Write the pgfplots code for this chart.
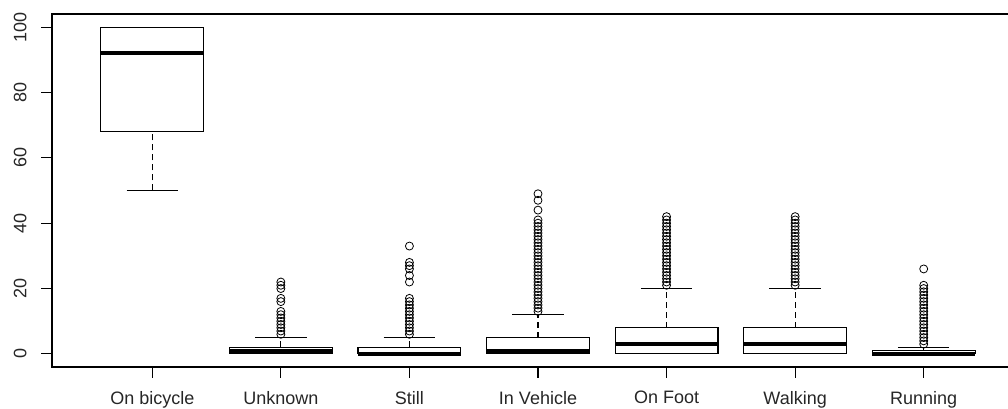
\documentclass[border=0pt]{standalone}
\usepackage{fontspec}
\setmainfont{Liberation Sans}
\usepackage{pgfplots}
\pgfplotsset{compat=1.18}
\usepgfplotslibrary{statistics}
\pgfplotsset{
  rbox/.style={
    black, line width=0.8pt, solid, fill=none, mark=none,
    boxplot/draw direction=y,
    boxplot/box extend=0.8,
    boxplot/every median/.style={line width=3pt},
    boxplot/draw/lower whisker/.code={
      \draw[line width=0.8pt, dash pattern=on 4.5pt off 3pt]
        (boxplot box cs:\pgfplotsboxplotvalue{lower whisker},0.5) --
        (boxplot box cs:\pgfplotsboxplotvalue{lower quartile},0.5);
      \draw[line width=0.8pt]
        (boxplot box cs:\pgfplotsboxplotvalue{lower whisker},0.25) --
        (boxplot box cs:\pgfplotsboxplotvalue{lower whisker},0.75);
    },
    boxplot/draw/upper whisker/.code={
      \draw[line width=0.8pt, dash pattern=on 4.5pt off 3pt]
        (boxplot box cs:\pgfplotsboxplotvalue{upper quartile},0.5) --
        (boxplot box cs:\pgfplotsboxplotvalue{upper whisker},0.5);
      \draw[line width=0.8pt]
        (boxplot box cs:\pgfplotsboxplotvalue{upper whisker},0.25) --
        (boxplot box cs:\pgfplotsboxplotvalue{upper whisker},0.75);
    },
  },
  rout/.style={only marks, mark=o, mark size=3pt, black, mark options={line width=0.6pt}},
}
\begin{document}
\begin{tikzpicture}
\begin{axis}[
  at={(0pt,0pt)}, anchor=south west,
  scale only axis,
  width=729pt, height=264.75pt,
  xmin=0.22, xmax=7.78, ymin=-4, ymax=104,
  xtick={1,2,3,4,5,6,7},
  xticklabels={On bicycle,Unknown,Still,In Vehicle,On Foot,Walking,Running},
  ytick={0,20,40,60,80,100},
  tick pos=left,
  tick align=outside,
  major tick length=8pt,
  tick style={line width=0.8pt, black},
  axis line style={line width=0.8pt},
  /pgf/number format/assume math mode=true,
  tick label style={font=\fontsize{13.5}{15}\selectfont, text=black!85},
  yticklabel style={rotate=90, anchor=south},
  yticklabel shift=7.5pt,
  xticklabel shift=6.5pt,
  clip=false,
]
% On bicycle
\addplot[rbox, boxplot prepared={draw position=1, lower whisker=50, lower quartile=68, median=92, upper quartile=100, upper whisker=100}] coordinates {};
% Unknown
\addplot[rbox, boxplot prepared={draw position=2, lower whisker=0, lower quartile=0, median=1, upper quartile=2, upper whisker=5}] coordinates {};
\addplot[rout] coordinates {(2,6) (2,7) (2,8) (2,9) (2,10) (2,11) (2,12) (2,13) (2,16) (2,17) (2,20) (2,21) (2,22)};
% Still
\addplot[rbox, boxplot prepared={draw position=3, lower whisker=0, lower quartile=0, median=0, upper quartile=2, upper whisker=5}] coordinates {};
\addplot[rout] coordinates {(3,6) (3,7) (3,8) (3,9) (3,10) (3,11) (3,12) (3,13) (3,14) (3,15) (3,16) (3,17) (3,22) (3,24) (3,26) (3,27) (3,28) (3,33)};
% In Vehicle
\addplot[rbox, boxplot prepared={draw position=4, lower whisker=0, lower quartile=0, median=1, upper quartile=5, upper whisker=12}] coordinates {};
\addplot[rout] coordinates {(4,13) (4,14) (4,15) (4,16) (4,17) (4,18) (4,19) (4,20) (4,21) (4,22) (4,23) (4,24) (4,25) (4,26) (4,27) (4,28) (4,29) (4,30) (4,31) (4,32) (4,33) (4,34) (4,35) (4,36) (4,37) (4,38) (4,39) (4,40) (4,41) (4,44) (4,47) (4,49)};
% On Foot
\addplot[rbox, boxplot prepared={draw position=5, lower whisker=0, lower quartile=0, median=3, upper quartile=8, upper whisker=20}] coordinates {};
\addplot[rout] coordinates {(5,21) (5,22) (5,23) (5,24) (5,25) (5,26) (5,27) (5,28) (5,29) (5,30) (5,31) (5,32) (5,33) (5,34) (5,35) (5,36) (5,37) (5,38) (5,39) (5,40) (5,41) (5,42)};
% Walking
\addplot[rbox, boxplot prepared={draw position=6, lower whisker=0, lower quartile=0, median=3, upper quartile=8, upper whisker=20}] coordinates {};
\addplot[rout] coordinates {(6,21) (6,22) (6,23) (6,24) (6,25) (6,26) (6,27) (6,28) (6,29) (6,30) (6,31) (6,32) (6,33) (6,34) (6,35) (6,36) (6,37) (6,38) (6,39) (6,40) (6,41) (6,42)};
% Running
\addplot[rbox, boxplot prepared={draw position=7, lower whisker=0, lower quartile=0, median=0, upper quartile=1, upper whisker=2}] coordinates {};
\addplot[rout] coordinates {(7,3) (7,4) (7,5) (7,6) (7,7) (7,8) (7,9) (7,10) (7,11) (7,12) (7,13) (7,14) (7,15) (7,16) (7,17) (7,18) (7,19) (7,20) (7,21) (7,26)};
\end{axis}
\pgfresetboundingbox
\useasboundingbox (-39pt,-31.5pt) rectangle (717pt,275.25pt);
\end{tikzpicture}
\end{document}
